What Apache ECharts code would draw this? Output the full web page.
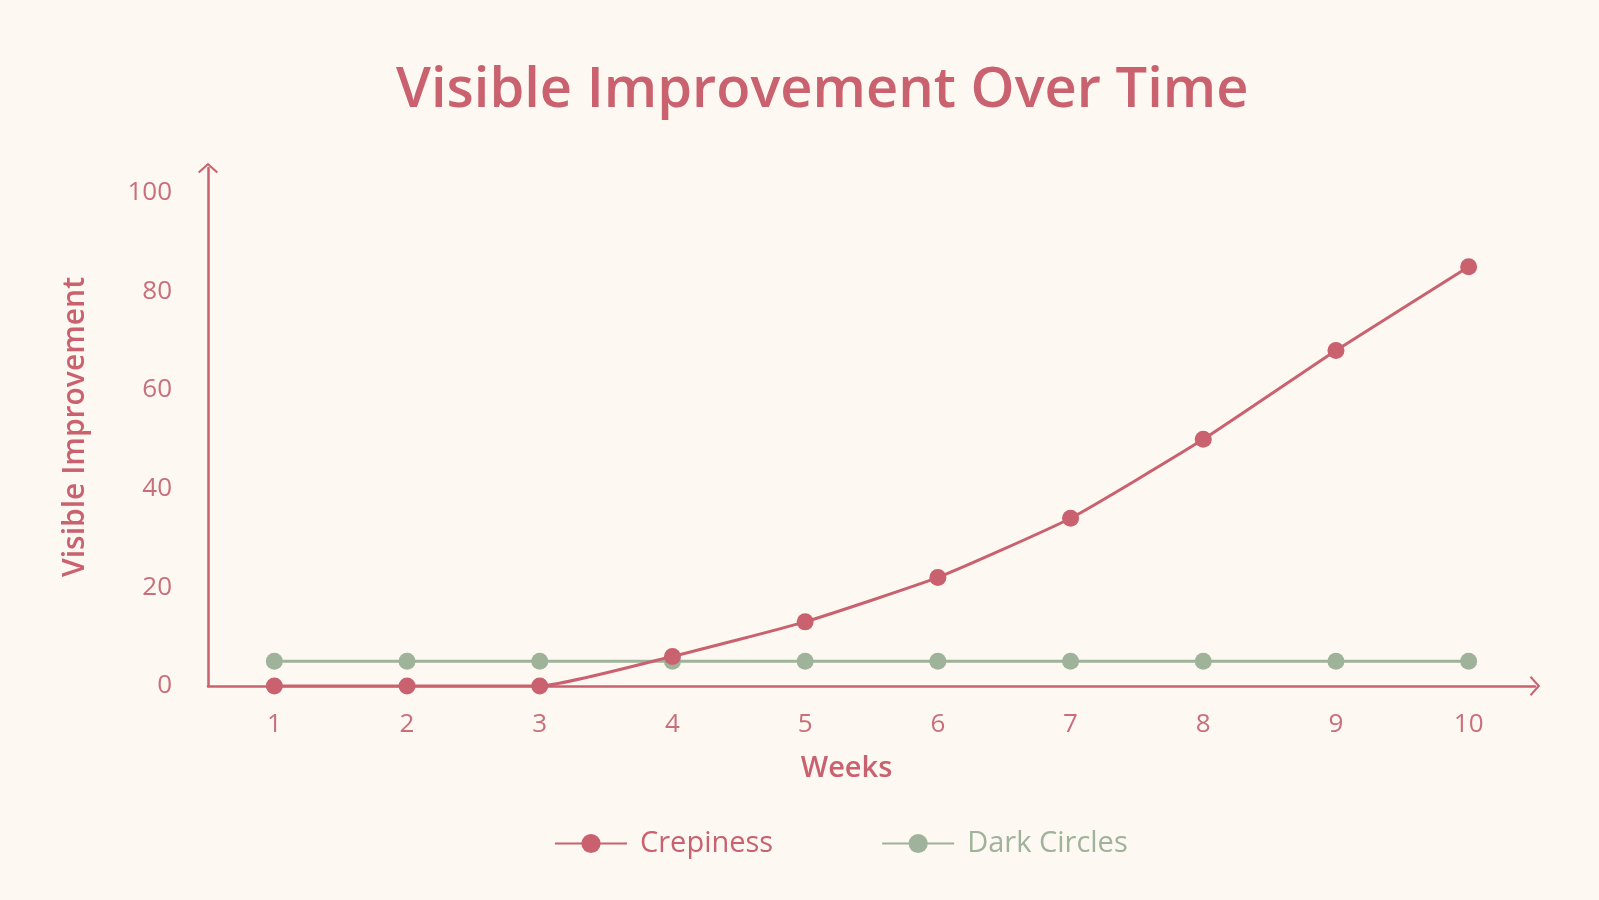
<!DOCTYPE html>
<html>
<head>
<meta charset="utf-8">
<title>Visible Improvement Over Time</title>
<script src="https://cdn.jsdelivr.net/npm/echarts@6/dist/echarts.min.js"></script>
<style>
  html, body { margin: 0; padding: 0; background: #fdf8f1; }
  #chart { width: 1599px; height: 900px; }
</style>
</head>
<body>
<div id="chart"></div>
<script>
// data
var weeks = ['1', '2', '3', '4', '5', '6', '7', '8', '9', '10'];
var crepiness = [0, 0, 0, 6, 13, 22, 34, 50, 68, 85];
var darkCircles = [5, 5, 5, 5, 5, 5, 5, 5, 5, 5];
var yTicks = [0, 20, 40, 60, 80, 100];

var pink = '#c9616f';
var pinkLabel = '#c96f7b';
var sage = '#9fb29a';
var font = '"Open Sans", "Noto Sans", sans-serif';

// open chevron arrow for the axis ends
var chevron = 'path://M0,0 L10,9 L8.6,10.4 L0,2.8 L-8.6,10.4 L-10,9 Z';

var chart = echarts.init(document.getElementById('chart'));

var option = {
  backgroundColor: '#fdf8f1',
  textStyle: { fontFamily: font },
  title: {
    text: 'Visible Improvement Over Time',
    left: 391,
    top: 58,
    textStyle: {
      color: pink,
      fontSize: 56,
      fontWeight: 600,
      fontFamily: font
    }
  },
  legend: {
    bottom: 37,
    left: 549,
    itemWidth: 72,
    itemHeight: 24,
    itemGap: 108,
    data: [
      { name: 'Crepiness', textStyle: { color: pink } },
      { name: 'Dark Circles', textStyle: { color: sage } }
    ],
    textStyle: { fontSize: 29, fontFamily: font, padding: [0, 0, 0, 8] }
  },
  grid: {
    left: 208,
    right: 64,
    top: 168,
    bottom: 214,
    containLabel: false
  },
  xAxis: {
    type: 'category',
    data: weeks,
    boundaryGap: true,
    name: 'Weeks',
    nameLocation: 'middle',
    nameGap: 68,
    nameTextStyle: {
      color: pink,
      fontSize: 29,
      fontWeight: 600,
      padding: [0, 50, 0, 0]
    },
    axisLine: {
      show: true,
      symbol: ['none', chevron],
      symbolSize: [20, 11],
      lineStyle: { color: pink, width: 2.5 }
    },
    axisTick: { show: false },
    axisLabel: { color: pinkLabel, fontSize: 26, margin: 26 },
    splitLine: { show: false }
  },
  yAxis: {
    type: 'value',
    min: 0,
    max: 105,
    interval: 20,
    name: 'Visible Improvement',
    nameLocation: 'middle',
    nameGap: 118,
    nameTextStyle: {
      color: pink,
      fontSize: 30,
      fontWeight: 600
    },
    axisLine: {
      show: true,
      symbol: ['none', chevron],
      symbolSize: [20, 11],
      lineStyle: { color: pink, width: 2.5 }
    },
    axisTick: { show: false },
    axisLabel: {
      color: pinkLabel,
      fontSize: 26,
      margin: 36,
      formatter: function (v) {
        return yTicks.indexOf(v) >= 0 ? String(v) : '';
      }
    },
    splitLine: { show: false }
  },
  series: [
    {
      name: 'Dark Circles',
      type: 'line',
      data: darkCircles,
      z: 2,
      symbol: 'circle',
      symbolSize: 17,
      lineStyle: { color: sage, width: 3 },
      itemStyle: { color: sage },
      emphasis: { disabled: true }
    },
    {
      name: 'Crepiness',
      type: 'line',
      data: crepiness,
      z: 3,
      smooth: 0.15,
      symbol: 'circle',
      symbolSize: 17,
      lineStyle: { color: pink, width: 3 },
      itemStyle: { color: pink },
      emphasis: { disabled: true }
    }
  ]
};

chart.setOption(option);
</script>
</body>
</html>
